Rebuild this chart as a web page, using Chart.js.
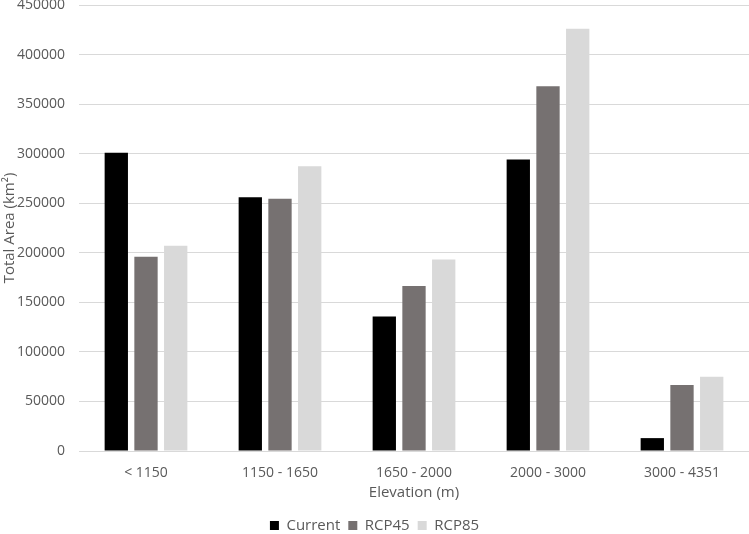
<!DOCTYPE html>
<html>
<head>
<meta charset="utf-8">
<script src="https://cdn.jsdelivr.net/npm/chart.js@4/dist/chart.umd.min.js"></script>
<style>
  html, body { margin: 0; padding: 0; background: #fff; }
  #wrap { width: 749px; height: 534px; position: relative; }
</style>
</head>
<body>
<div id="wrap"><canvas id="chart"></canvas></div>
<script>
  // ---- data ----
  const categories = ['< 1150', '1150 - 1650', '1650 - 2000', '2000 - 3000', '3000 - 4351'];
  const current = [301000, 256000, 135700, 294000, 13000];
  const rcp45   = [196000, 254500, 166600, 368000, 66700];
  const rcp85   = [207000, 287200, 193300, 426000, 74800];
  const yTicks  = [0, 50000, 100000, 150000, 200000, 250000, 300000, 350000, 400000, 450000];

  const textColor = '#595959';
  Chart.defaults.font.family = "'Open Sans', sans-serif";
  Chart.defaults.color = textColor;

  const bar = (label, data, color) => ({
    label, data,
    backgroundColor: color,
    borderWidth: 0,
    categoryPercentage: 0.665,
    barPercentage: 0.785,
  });

  new Chart(document.getElementById('chart'), {
    type: 'bar',
    data: {
      labels: categories,
      datasets: [
        bar('Current', current, '#000000'),
        bar('RCP45', rcp45, '#767171'),
        bar('RCP85', rcp85, '#d9d9d9'),
      ],
    },
    options: {
      responsive: true,
      maintainAspectRatio: false,
      animation: false,
      // negative bottom padding pulls the legend down to the edge like the original
      layout: { padding: { top: 5, right: 0, bottom: -9, left: 0 } },
      plugins: {
        legend: {
          position: 'bottom',
          labels: {
            boxWidth: 9,
            boxHeight: 9,
            padding: 8,
            color: textColor,
            font: { size: 15 },
          },
        },
        tooltip: { enabled: false },
      },
      scales: {
        x: {
          afterFit: s => { s.height = 59; s.paddingLeft = 0; s.paddingRight = 0; },
          grid: { display: false },
          border: { display: false },
          ticks: { font: { size: 14 }, color: textColor, padding: 6 },
          title: { display: true, text: 'Elevation (m)', font: { size: 15 }, color: textColor, padding: { top: 0, bottom: 8 } },
        },
        y: {
          min: 0,
          max: 450000,
          afterBuildTicks: s => { s.ticks = yTicks.map(v => ({ value: v })); },
          afterFit: s => { s.width = 79; s.paddingTop = 0; s.paddingBottom = 0; },
          grid: { color: '#d9d9d9', lineWidth: 1, drawTicks: false },
          border: { display: false },
          ticks: { font: { size: 14 }, color: textColor, padding: 14, callback: v => String(v) },
          title: { display: true, text: 'Total Area (km²)', font: { size: 15 }, color: textColor, padding: { top: 1, bottom: 0 } },
        },
      },
    },
  });
</script>
</body>
</html>
